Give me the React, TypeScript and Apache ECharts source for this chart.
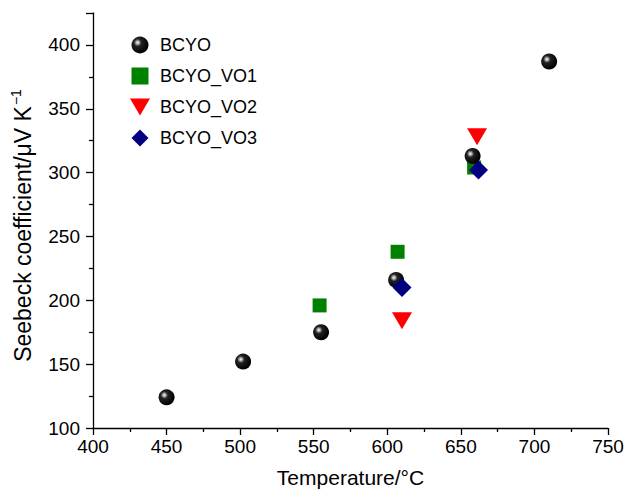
import React, { useEffect, useRef } from "react";
import * as echarts from "echarts";

const bcyo: [number, number][] = [
  [450, 124], [502, 152], [555, 175], [606, 216], [658, 313], [710, 387],
];
const bcyoVo1: [number, number][] = [
  [554, 196], [607, 238], [659, 304],
];
const bcyoVo2: [number, number][] = [
  [610, 184], [661, 328],
];
const bcyoVo3: [number, number][] = [
  [610, 210], [662, 302],
];
const seriesNames = ["BCYO", "BCYO_VO1", "BCYO_VO2", "BCYO_VO3"];

const FONT = "Liberation Sans, Arial, Helvetica, sans-serif";

export default function App() {
  const ref = useRef<HTMLDivElement>(null);
  useEffect(() => {
    if (!ref.current) return;
    const chart = echarts.init(ref.current, undefined, { renderer: "svg" });
    const sphere = {
      type: "radial",
      x: 0.36,
      y: 0.36,
      r: 0.64,
      colorStops: [
        { offset: 0, color: "#ffffff" },
        { offset: 0.12, color: "#bdbdbd" },
        { offset: 0.35, color: "#222222" },
        { offset: 1, color: "#000000" },
      ],
    };
    const axisCommon = {
      axisLine: { show: true, lineStyle: { color: "#000", width: 1.3 } },
      axisTick: { show: true, inside: false, length: 7, lineStyle: { color: "#000", width: 1.3 } },
      minorTick: { show: true, splitNumber: 2, length: 4, lineStyle: { color: "#000", width: 1.3 } },
      splitLine: { show: false },
      axisLabel: { color: "#000", fontSize: 19, fontFamily: FONT },
      nameTextStyle: { color: "#000", fontSize: 21, fontFamily: FONT },
    };
    chart.setOption({
      animation: false,
      backgroundColor: "#fff",
      grid: {
        left: 93,
        right: 16,
        top: 13,
        bottom: 62,
        containLabel: false,
        outerBoundsMode: "none",
      },
      legend: {
        orient: "vertical",
        left: 125,
        top: 31,
        itemGap: 13,
        itemWidth: 30,
        itemHeight: 17,
        symbolKeepAspect: true,
        textStyle: { color: "#000", fontSize: 18, fontFamily: FONT },
        data: [
          { name: seriesNames[0], icon: "circle" },
          { name: seriesNames[1], icon: "path://M0,0 L14,0 L14,14 L0,14 Z" },
          { name: seriesNames[2], icon: "path://M0,0 L20,0 L10,17 Z" },
          { name: seriesNames[3], icon: "path://M9,0 L18,9 L9,18 L0,9 Z" },
        ],
      },
      xAxis: {
        type: "value",
        min: 400,
        max: 750,
        interval: 50,
        name: "Temperature/°C",
        nameLocation: "middle",
        nameGap: 39,
        ...axisCommon,
        axisLabel: { ...axisCommon.axisLabel, margin: 9 },
      },
      yAxis: {
        type: "value",
        min: 100,
        max: 425,
        interval: 50,
        name: "{a|Seebeck coefficient/μV K}{s|−1}",
        nameLocation: "middle",
        nameGap: 56,
        ...axisCommon,
        nameTextStyle: {
          ...axisCommon.nameTextStyle,
          fontSize: 23,
          padding: [0, 10, 0, 0],
          rich: {
            a: { fontSize: 23, fontFamily: FONT, color: "#000", lineHeight: 28 },
            s: { fontSize: 14, fontFamily: FONT, color: "#000", verticalAlign: "top", lineHeight: 28, padding: [0, 0, 12, 1] },
          },
        },
        axisLabel: { ...axisCommon.axisLabel, margin: 13, showMaxLabel: false },
      },
      series: [
        {
          name: seriesNames[0],
          type: "scatter",
          data: bcyo,
          symbol: "circle",
          symbolSize: 16,
          itemStyle: { color: sphere as any, opacity: 1 },
          z: 2,
        },
        {
          name: seriesNames[1],
          type: "scatter",
          data: bcyoVo1,
          symbol: "rect",
          symbolSize: 14,
          itemStyle: { color: "#008000", opacity: 1 },
          z: 1,
        },
        {
          name: seriesNames[2],
          type: "scatter",
          data: bcyoVo2,
          symbol: "triangle",
          symbolRotate: 180,
          symbolSize: [20, 17],
          itemStyle: { color: "#ff0000", opacity: 1 },
          z: 3,
        },
        {
          name: seriesNames[3],
          type: "scatter",
          data: bcyoVo3,
          symbol: "diamond",
          symbolSize: 19,
          itemStyle: { color: "#000080", opacity: 1 },
          z: 4,
        },
      ],
    });
    return () => chart.dispose();
  }, []);
  return (
    <div
      ref={ref}
      style={{ position: "fixed", left: 0, top: 0, width: 624, height: 490 }}
    />
  );
}
